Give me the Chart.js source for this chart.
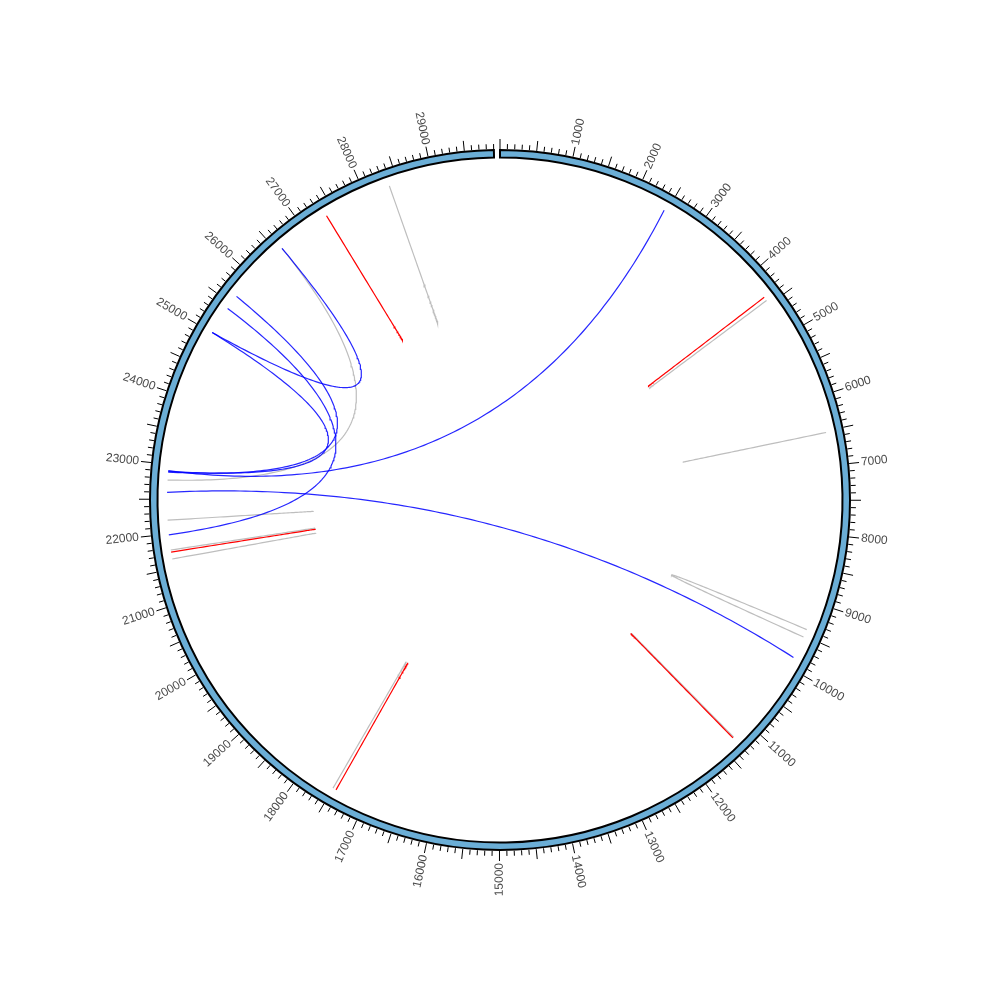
<!DOCTYPE html>
<html><head><meta charset="utf-8">
<script src="https://cdn.jsdelivr.net/npm/chart.js@4.4.0/dist/chart.umd.min.js"></script>
<style>html,body{margin:0;padding:0;background:#fff}canvas{display:block}</style>
</head><body>
<canvas id="c" width="1000" height="1000"></canvas>
<script>
// ---------------- data ----------------
const genomeLength = 29903;
const tickLabels = [1000,2000,3000,4000,5000,6000,7000,8000,9000,10000,11000,12000,13000,14000,15000,
  16000,17000,18000,19000,20000,21000,22000,23000,24000,25000,26000,27000,28000,29000];
// link end positions (bp) and link category
const linkFrom = [22910, 22600, 22890, 22900, 21990, 25005, 22776,
                  4430, 6522, 9404, 11280, 17500, 21770, 21640, 22200, 28370,
                  4373, 11295, 17450, 21740, 27371];
const linkTo   = [2460, 9846, 25630, 25005, 25415, 26580, 26580,
                  4430, 6522, 9521, 11280, 17500, 21770, 21640, 22200, 28370,
                  4373, 11295, 17450, 21740, 27371];
const linkType = ['blue','blue','blue','blue','blue','blue','grey',
                  'grey','grey','grey','grey','grey','grey','grey','grey','grey',
                  'red','red','red','red','red'];

// ---------------- styles ----------------
const typeStyle = {
  red:  {color: '#ff0000', order: 1},
  blue: {color: 'rgba(0,0,255,0.85)', order: 2},
  grey: {color: '#bebebe', order: 3}
};
const GAP_DEG = 1;
const degPerBp = (360 - GAP_DEG) / genomeLength;
const R_LINK = 333, R_IN = 342.5, R_OUT = 350, R_LABEL = 363;

function angleOf(bp) { return bp * degPerBp; }
function toXY(thetaDeg, r) {
  const t = thetaDeg * Math.PI / 180;
  return {x: r * Math.sin(t), y: r * Math.cos(t)};
}
function linkCurve(a, b, n) {
  const t1 = angleOf(a), t2 = angleOf(b);
  let d = Math.abs(t2 - t1), mid = (t1 + t2) / 2;
  if (d > 180) { d = 360 - d; mid += 180; }
  const rouMid = R_LINK * Math.cos(d / 2 * Math.PI / 180);
  const apex = 0.5616 * R_LINK * Math.pow(Math.max(rouMid, 0) / R_LINK, 1.35);
  const rc = 2 * apex - rouMid;
  const p0 = toXY(t1, R_LINK), p2 = toXY(t2, R_LINK), p1 = toXY(mid, rc);
  const pts = [];
  for (let i = 0; i <= n; i++) {
    const t = i / n, u = 1 - t;
    pts.push({x: u*u*p0.x + 2*u*t*p1.x + t*t*p2.x, y: u*u*p0.y + 2*u*t*p1.y + t*t*p2.y});
  }
  return pts;
}

const datasets = linkFrom.map((a, i) => ({
  data: linkCurve(a, linkTo[i], 120),
  showLine: true, fill: false, tension: 0,
  borderColor: typeStyle[linkType[i]].color,
  borderWidth: 1.2, pointRadius: 0, pointHoverRadius: 0,
  order: typeStyle[linkType[i]].order
}));

const ringPlugin = {
  id: 'ring',
  beforeDatasetsDraw(chart) {
    const ctx = chart.ctx, xs = chart.scales.x, ys = chart.scales.y;
    const cx = xs.getPixelForValue(0), cy = ys.getPixelForValue(0);
    const k = xs.getPixelForValue(1) - cx;
    const rad = th => (th - 90) * Math.PI / 180;
    const a0 = rad(angleOf(0)), a1 = rad(angleOf(genomeLength));
    ctx.save();
    // ring
    ctx.beginPath();
    ctx.arc(cx, cy, R_OUT * k, a0, a1, false);
    ctx.arc(cx, cy, R_IN * k, a1, a0, true);
    ctx.closePath();
    ctx.fillStyle = '#6baed6';
    ctx.fill();
    ctx.lineWidth = 2;
    ctx.strokeStyle = '#000';
    ctx.stroke();
    // ticks
    ctx.lineWidth = 1;
    ctx.beginPath();
    for (let bp = 0; bp <= genomeLength; bp += 100) {
      const th = angleOf(bp) * Math.PI / 180;
      const r0 = R_OUT + 1, r1 = r0 + (bp % 500 === 0 ? 10 : 5);
      ctx.moveTo(cx + r0 * k * Math.sin(th), cy - r0 * k * Math.cos(th));
      ctx.lineTo(cx + r1 * k * Math.sin(th), cy - r1 * k * Math.cos(th));
    }
    ctx.stroke();
    // labels
    ctx.fillStyle = '#4a4a4a';
    ctx.font = '12px "Liberation Sans", Arial, sans-serif';
    ctx.textBaseline = 'middle';
    tickLabels.forEach(v => {
      const thDeg = angleOf(v), th = thDeg * Math.PI / 180;
      const px = cx + R_LABEL * k * Math.sin(th), py = cy - R_LABEL * k * Math.cos(th);
      ctx.save();
      ctx.translate(px, py);
      if (thDeg < 180) { ctx.rotate((thDeg - 90) * Math.PI / 180); ctx.textAlign = 'left'; }
      else { ctx.rotate((thDeg - 270) * Math.PI / 180); ctx.textAlign = 'right'; }
      ctx.fillText(String(v), 0, 0);
      ctx.restore();
    });
    ctx.restore();
  }
};

new Chart(document.getElementById('c').getContext('2d'), {
  type: 'scatter',
  data: {datasets},
  options: {
    responsive: false, animation: false, devicePixelRatio: 1,
    layout: {padding: 0},
    plugins: {legend: {display: false}, tooltip: {enabled: false}, title: {display: false}},
    scales: {
      x: {type: 'linear', min: -500, max: 500, display: false},
      y: {type: 'linear', min: -500, max: 500, display: false}
    },
    events: []
  },
  plugins: [ringPlugin]
});
</script>
</body></html>
